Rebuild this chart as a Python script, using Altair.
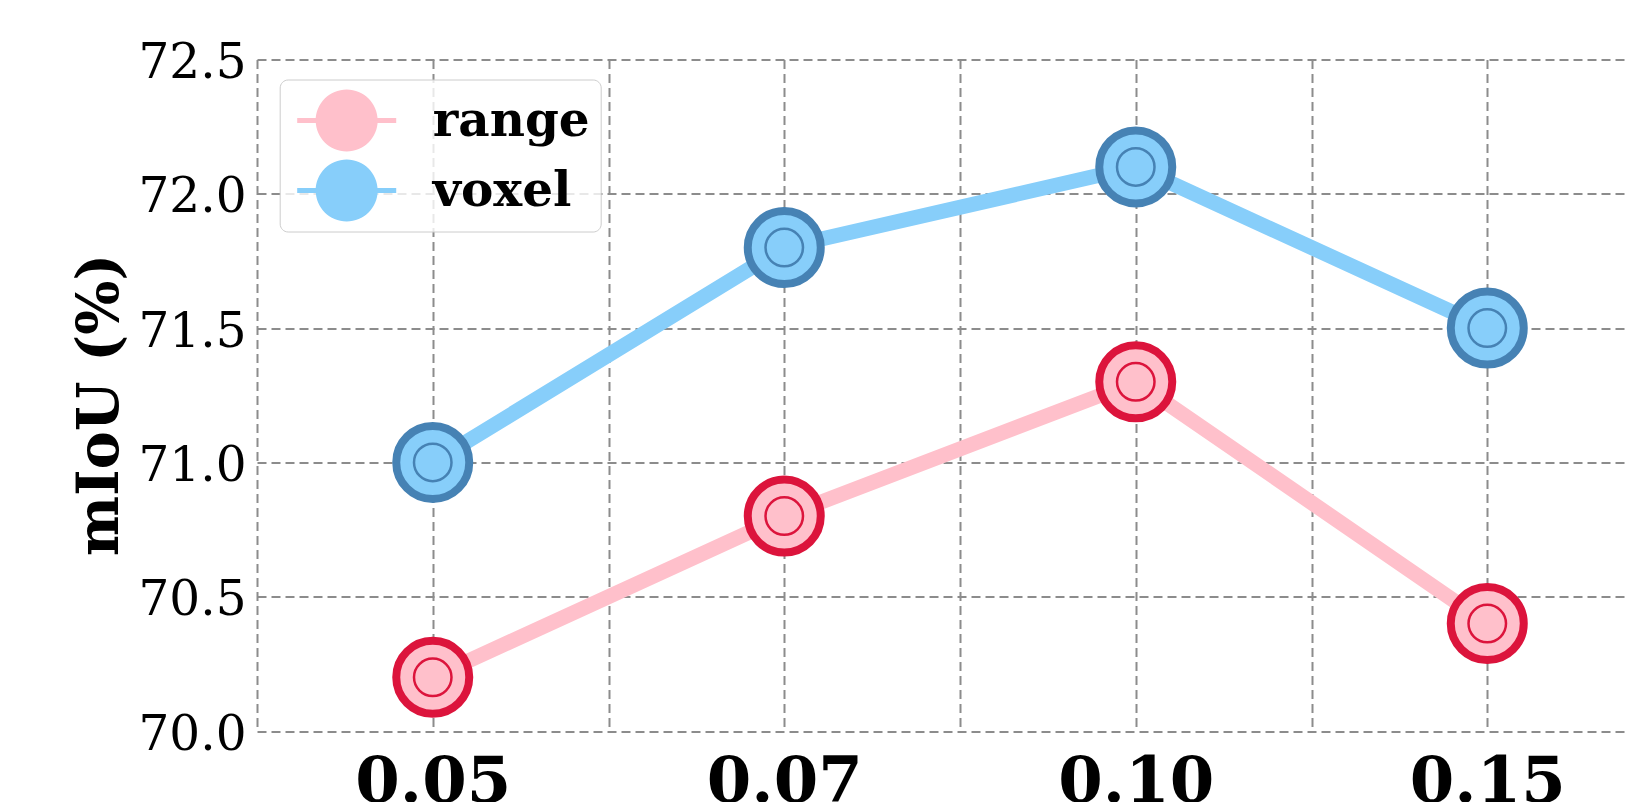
import altair as alt
import pandas as pd

# ---- data ----
x_labels = ['0.05', '0.07', '0.10', '0.15']
series_names = ['range', 'voxel']
range_values = [70.2, 70.8, 71.3, 70.4]
voxel_values = [71.0, 71.8, 72.1, 71.5]
y_ticks = [70.0, 70.5, 71.0, 71.5, 72.0, 72.5]
line_colors = ['#FFC0CB', '#87CEFA']
edge_colors = ['#DC143C', '#4682B4']

rows = []
for name, vals in zip(series_names, [range_values, voxel_values]):
    for i, (lab, v) in enumerate(zip(x_labels, vals)):
        rows.append({'idx': i, 'param': lab, 'series': name,
                     'series_s': name, 'series_c': name, 'miou': v})
df = pd.DataFrame(rows)

x_tick_vals = [i * 0.5 - 0.5 for i in range(2 * len(x_labels))]
label_expr = "[" + ",".join("'%s'" % l for l in x_labels) + "][datum.value] || ''"

FONT = 'DejaVu Serif'
GRID = '#8c8c8c'

x_enc = alt.X('idx:Q',
              scale=alt.Scale(domain=[-0.5, 3.3947], nice=False, zero=False),
              axis=alt.Axis(values=x_tick_vals, labelExpr=label_expr, title=None,
                            labelFont=FONT, labelFontWeight='bold', labelFontSize=64,
                            labelPadding=19, labelOverlap=False, labelFlush=False,
                            labelColor='black'))
y_enc = alt.Y('miou:Q',
              scale=alt.Scale(domain=[70.0, 72.5], nice=False, zero=False),
              axis=alt.Axis(values=y_ticks, format='.1f', title='mIoU (%)',
                            labelFont=FONT, labelFontSize=48.5, labelPadding=11,
                            labelOffset=3, labelFlush=False, labelOverlap=False,
                            labelColor='black',
                            titleFont=FONT, titleFontWeight='bold', titleFontSize=57,
                            titleAngle=270, titleBaseline='alphabetic', titleAlign='center',
                            titleX=-140, titleY=345, titleColor='black'))

k = 0.5523
legend_path = ("M-1.597,-0.081L-0.99,-0.081L-0.99,0.081L-1.597,0.081Z "
               "M0.99,-0.081L1.597,-0.081L1.597,0.081L0.99,0.081Z "
               f"M1,0C1,{k} {k},1 0,1C-{k},1 -1,{k} -1,0"
               f"C-1,-{k} -{k},-1 0,-1C{k},-1 1,-{k} 1,0Z")

base = alt.Chart(df)

lines = base.mark_line(strokeWidth=15).encode(
    x=x_enc, y=y_enc,
    color=alt.Color('series_c:N', scale=alt.Scale(range=line_colors), legend=None),
)

outer = base.mark_point(shape='circle', size=5329, strokeWidth=8, filled=True,
                        opacity=1, fillOpacity=1, strokeOpacity=1).encode(
    x=x_enc, y=y_enc,
    fill=alt.Fill('series:N', scale=alt.Scale(domain=series_names, range=line_colors),
                  legend=alt.Legend(orient='none', legendX=22.7, legendY=20, title=None,
                                    symbolType=legend_path, symbolSize=3844,
                                    symbolStrokeWidth=0, symbolOffset=26, symbolOpacity=1,
                                    labelFont=FONT, labelFontWeight='bold', labelFontSize=48.5,
                                    labelOffset=55, labelLimit=400, labelColor='black',
                                    padding=10, rowPadding=8,
                                    fillColor='rgba(255,255,255,0.8)', strokeColor='#cccccc',
                                    cornerRadius=8)),
    stroke=alt.Stroke('series_s:N', scale=alt.Scale(range=edge_colors), legend=None),
)

inner = base.mark_point(shape='circle', size=1406, strokeWidth=2.5, filled=False,
                        opacity=1, strokeOpacity=1).encode(
    x=x_enc, y=y_enc,
    stroke=alt.Stroke('series_s:N', scale=alt.Scale(range=edge_colors), legend=None),
)

chart = alt.layer(lines, outer, inner).properties(
    width=1369, height=671.5,
    autosize=alt.AutoSizeParams(type='none'),
    padding={'left': 249, 'top': 51.5, 'right': 0, 'bottom': 71},
    background='white',
).configure_view(stroke=None).configure_axis(
    domain=False, ticks=False, grid=True, gridColor=GRID, gridDash=[9, 5],
    gridWidth=2, gridOpacity=1,
)

chart.save("out.html", embed_options={"renderer": "svg", "actions": False})
